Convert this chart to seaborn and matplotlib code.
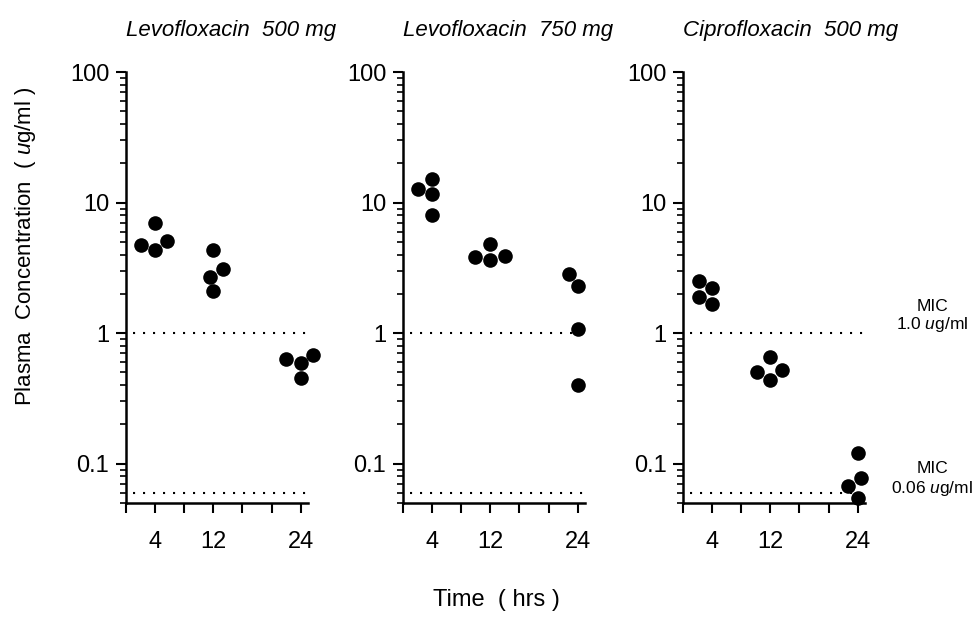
import numpy as np
import pandas as pd
import seaborn as sns
import matplotlib
matplotlib.use("Agg")
from matplotlib import pyplot as plt
from matplotlib import ticker

# panel titles and sampling times (hrs)
drugs = ["Levofloxacin  500 mg", "Levofloxacin  750 mg", "Ciprofloxacin  500 mg"]
times = [4, 4, 4, 4, 12, 12, 12, 12, 24, 24, 24, 24]

# plasma concentrations (ug/ml)
levo500 = [7.0, 5.1, 4.7, 4.3, 4.3, 3.1, 2.7, 2.1, 0.68, 0.63, 0.59, 0.45]
levo750 = [15.2, 12.7, 11.6, 8.0, 4.8, 3.9, 3.8, 3.6, 2.85, 2.3, 1.07, 0.40]
cipro500 = [2.5, 2.2, 1.9, 1.67, 0.66, 0.52, 0.50, 0.44, 0.12, 0.077, 0.067, 0.055]

mic_levels = [1.0, 0.06]
mic_labels = ["1.0 $\\it{u}$g/ml", "0.06 $\\it{u}$g/ml"]
yticks = [0.1, 1, 10, 100]
ytick_labels = ["0.1", "1", "10", "100"]
xticks = [0, 4, 8, 12, 16, 20, 24]
xtick_labels = ["", "4", "", "12", "", "", "24"]

df = pd.DataFrame({
    "drug": np.repeat(drugs, len(times)),
    "time": times * 3,
    "conc": levo500 + levo750 + cipro500,
})

sns.set_style("ticks")
plt.rcParams["font.family"] = ["Liberation Sans", "DejaVu Sans"]
plt.rcParams["mathtext.fontset"] = "custom"
plt.rcParams["mathtext.rm"] = "Liberation Sans"
plt.rcParams["mathtext.it"] = "Liberation Sans:italic"
plt.rcParams["text.color"] = "black"
plt.rcParams["xtick.color"] = "black"
plt.rcParams["ytick.color"] = "black"

fig = plt.figure(figsize=(9.73, 6.17), dpi=100)
lefts = [0.1295, 0.4142, 0.7020]
axes = [fig.add_axes([l, 0.1848, 0.187, 0.6985]) for l in lefts]

for ax, drug in zip(axes, drugs):
    ax.set_yscale("log")
    sub = df[df["drug"] == drug]
    sns.swarmplot(data=sub, x="time", y="conc", native_scale=True,
                  color="black", size=10.5, ax=ax)
    for coll in ax.collections:
        coll.set_clip_on(False)
    for lvl in mic_levels:
        ax.hlines(lvl, 1, 25, colors="black", linewidth=1.5,
                  linestyles=(0, (1, 3.8)))
    ax.set_xlim(0, 25)
    ax.set_ylim(0.05, 100)
    ax.set_xticks(xticks)
    ax.set_xticklabels(xtick_labels)
    ax.yaxis.set_major_locator(ticker.FixedLocator(yticks))
    ax.yaxis.set_major_formatter(ticker.FixedFormatter(ytick_labels))
    ax.yaxis.set_minor_locator(ticker.LogLocator(base=10, subs=np.arange(2, 10)))
    ax.yaxis.set_minor_formatter(ticker.NullFormatter())
    ax.tick_params(axis="both", which="major", direction="out", length=7,
                   width=1.5, labelsize=17, color="black")
    ax.tick_params(axis="y", which="major", pad=5)
    ax.tick_params(axis="y", which="minor", direction="out", length=4,
                   width=1.2, color="black")
    ax.tick_params(axis="x", which="major", pad=13)
    sns.despine(ax=ax)
    for side in ["left", "bottom"]:
        ax.spines[side].set_linewidth(1.8)
        ax.spines[side].set_color("black")
    ax.set_xlabel("")
    ax.set_ylabel("")
    ax.set_title(drug, loc="left", style="italic", fontsize=16, pad=26)

# MIC annotations to the right of the last panel
ax = axes[-1]
trans = matplotlib.transforms.blended_transform_factory(ax.transAxes, ax.transData)
ax.text(1.37, 1.6, "MIC", transform=trans, ha="center", va="center", fontsize=12.5)
ax.text(1.37, 1.17, mic_labels[0], transform=trans, ha="center", va="center", fontsize=12.5)
ax.text(1.37, 0.092, "MIC", transform=trans, ha="center", va="center", fontsize=12.5)
ax.text(1.37, 0.064, mic_labels[1], transform=trans, ha="center", va="center", fontsize=12.5)

fig.text(0.026, 0.601, "Plasma  Concentration  ( $\\it{u}$g/ml )", rotation=90,
         ha="center", va="center", fontsize=16)
fig.text(0.51, 0.027, "Time  ( hrs )", ha="center", va="center", fontsize=17)

fig.savefig("out.png", dpi=100)
